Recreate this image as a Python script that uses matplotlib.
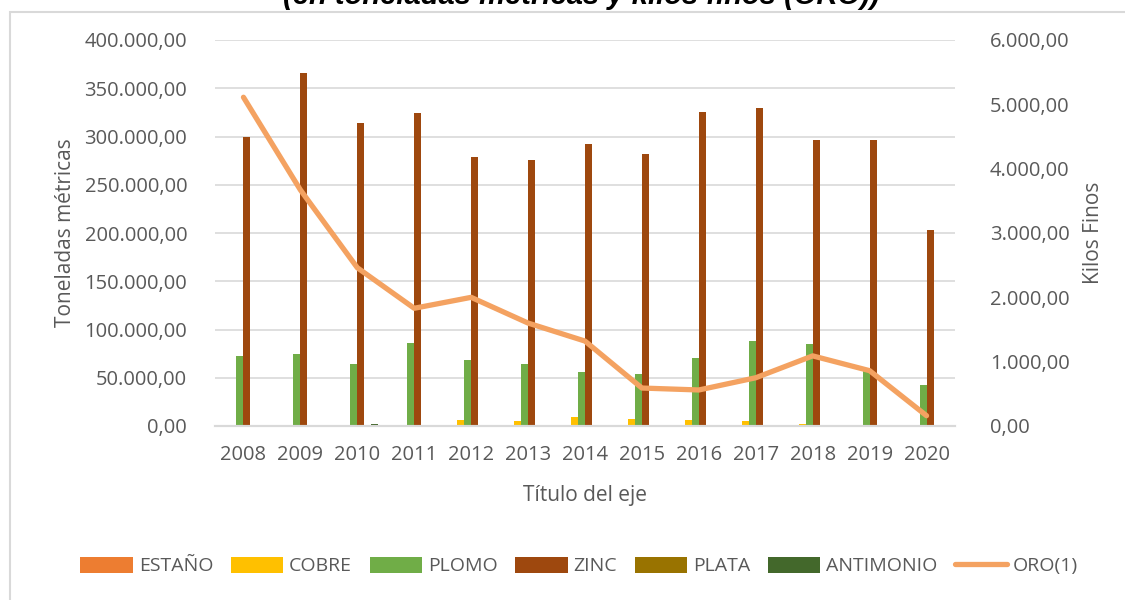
import numpy as np
import matplotlib.pyplot as plt
from matplotlib.patches import Rectangle
from matplotlib.ticker import FuncFormatter

plt.rcParams['font.family'] = ['Open Sans', 'DejaVu Sans']

years = ["2008", "2009", "2010", "2011", "2012", "2013", "2014",
         "2015", "2016", "2017", "2018", "2019", "2020"]

# toneladas metricas
estano = [1500, 1500, 1500, 1500, 0, 0, 0, 0, 0, 0, 0, 0, 0]
cobre = [0, 0, 0, 1500, 6200, 5200, 9300, 7500, 6200, 4900, 2400, 0, 0]
plomo = [72500, 74600, 64200, 86000, 68400, 64200, 56000, 53900, 70500, 88100, 85000, 59000, 42000]
zinc = [299500, 365800, 314000, 324400, 278800, 275600, 292200, 281900, 325400, 329500, 296400, 296400, 203100]
plata = [0, 0, 0, 0, 0, 0, 0, 0, 0, 0, 0, 0, 0]
antimonio = [0, 0, 1800, 0, 0, 0, 0, 0, 0, 0, 0, 0, 0]
# kilos finos
oro = [5110, 3670, 2460, 1830, 2000, 1600, 1320, 590, 560, 750, 1090, 860, 160]

series = [("ESTAÑO", estano, "#ED7D31"), ("COBRE", cobre, "#FFC000"),
          ("PLOMO", plomo, "#70AD47"), ("ZINC", zinc, "#9E480E"),
          ("PLATA", plata, "#997300"), ("ANTIMONIO", antimonio, "#43682B")]


def fmt_es(v, pos=None):
    s = "{:,.2f}".format(v)
    return s.replace(",", "X").replace(".", ",").replace("X", ".")


fig = plt.figure(figsize=(11.25, 6), dpi=100)
fig.patches.append(Rectangle((10 / 1125, -0.1), 1.2, 1.1 - 12 / 600, transform=fig.transFigure,
                             fill=False, edgecolor="#d9d9d9", linewidth=1.5))
ax = fig.add_axes([215 / 1125, 1 - 426 / 600, 740 / 1125, 386 / 600])
ax2 = ax.twinx()

x = np.arange(len(years))
w = 0.123
for i, (name, vals, col) in enumerate(series):
    ax.bar(x + (i - 2.5) * w, vals, w, color=col, label=name, zorder=2)

ln, = ax2.plot(x, oro, color="#F4A261", linewidth=3.8, solid_capstyle="round", label="ORO(1)", zorder=3)

ax.set_xlim(-0.5, len(years) - 0.5)
ax.set_ylim(0, 400000)
ax.set_yticks(np.arange(0, 400001, 50000))
ax.yaxis.set_major_formatter(FuncFormatter(fmt_es))
ax2.set_ylim(0, 6000)
ax2.set_yticks(np.arange(0, 6001, 1000))
ax2.yaxis.set_major_formatter(FuncFormatter(fmt_es))
ax.set_xticks(x)
ax.set_xticklabels(years)

ax.grid(axis="y", color="#d9d9d9", linewidth=1.2, zorder=0)
ax.set_axisbelow(True)
for a in (ax, ax2):
    for s in ("top", "left", "right"):
        a.spines[s].set_visible(False)
    a.spines["bottom"].set_color("#d9d9d9")
    a.spines["bottom"].set_linewidth(1.5)
    a.tick_params(length=0, labelsize=14.5, labelcolor="#595959")
ax.tick_params(axis="y", pad=20)
ax2.tick_params(axis="y", pad=25)
ax.tick_params(axis="x", pad=14)

ax.set_ylabel("Toneladas métricas", fontsize=15, color="#595959", labelpad=6)
ax2.set_ylabel("Kilos Finos", fontsize=15, color="#595959", labelpad=10)
ax.set_xlabel("Título del eje", fontsize=15, color="#595959", labelpad=14)

fig.text(0.517, 1 - 4 / 600, "(en toneladas métricas y kilos finos (ORO))", ha="center", va="baseline",
         fontsize=21, fontweight="bold", fontstyle="italic", family="Liberation Sans")

h1, l1 = ax.get_legend_handles_labels()
fig.legend(h1 + [ln], l1 + ["ORO(1)"], loc="center", bbox_to_anchor=(0.515, 1 - 566 / 600), ncol=7,
           frameon=False, fontsize=14, labelcolor="#595959", handlelength=2.7, handleheight=0.9,
           handletextpad=0.3, columnspacing=0.9)

fig.savefig("out.png", dpi=100)
